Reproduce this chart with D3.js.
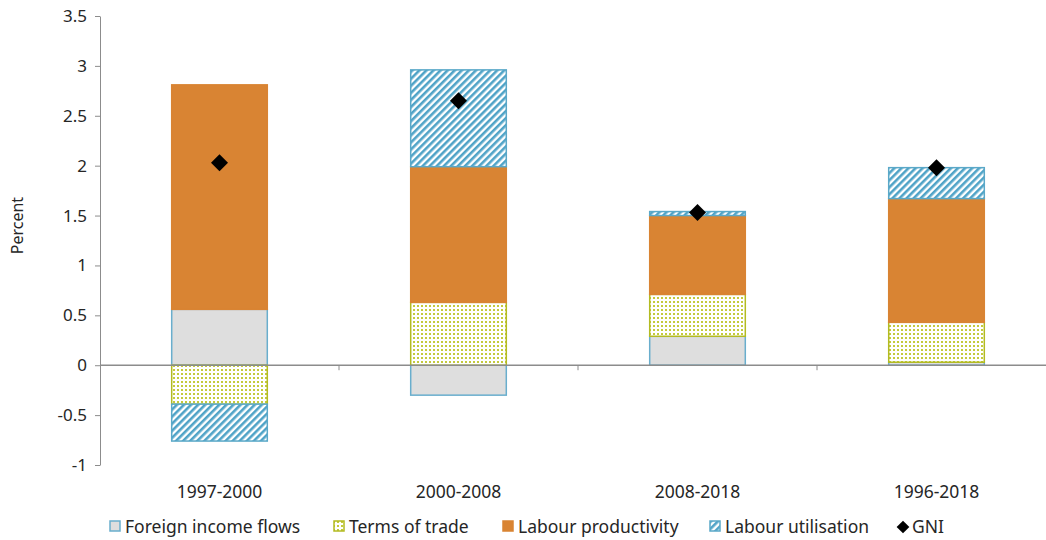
<!DOCTYPE html>
<html>
<head>
<meta charset="utf-8">
<script src="https://cdn.jsdelivr.net/npm/d3@7"></script>
<style>
body { margin: 0; background: #fff; }
#chart { width: 1046px; height: 540px; }
text { font-family: "Noto Sans", Lato, sans-serif; fill: #262626; }
.axis path, .axis line { stroke: #8c8c8c; }
</style>
</head>
<body>
<div id="chart"></div>
<script>
(function(){

// categories and series values (percent)
var periods = ["1997-2000", "2000-2008", "2008-2018", "1996-2018"];
var foreignIncome = [0.56, -0.30, 0.29, 0.03];
var termsOfTrade = [-0.39, 0.63, 0.42, 0.40];
var labourProductivity = [2.25, 1.36, 0.79, 1.24];
var labourUtilisation = [-0.37, 0.97, 0.04, 0.31];
var gni = [2.03, 2.65, 1.53, 1.98];
var yTicks = [-1, -0.5, 0, 0.5, 1, 1.5, 2, 2.5, 3, 3.5];

var seriesNames = ["Foreign income flows", "Terms of trade", "Labour productivity", "Labour utilisation"];
var seriesValues = [foreignIncome, termsOfTrade, labourProductivity, labourUtilisation];

window.onload = setChart;

function setChart(){
    var width = 1046, height = 540;

    var svg = d3.select("#chart")
        .append("svg")
        .attr("width", width)
        .attr("height", height);

    setPatterns(svg);

    var fills = ["#dedede", "url(#dots)", "#d98433", "url(#hatch)"];
    var strokes = ["#69aecd", "#b3bb22", "#d98433", "#5aa8c8"];

    var x = d3.scaleBand()
        .domain(periods)
        .range([100, 1056])
        .paddingInner(0.6)
        .paddingOuter(0.3);

    var y = d3.scaleLinear()
        .domain([-1, 3.5])
        .range([465, 16]);

    // stack positive / negative values separately
    var segs = [];
    periods.forEach(function(p, i){
        var pos = 0, neg = 0;
        seriesValues.forEach(function(vals, s){
            var v = vals[i], y0, y1;
            if (v >= 0) { y0 = pos; y1 = pos + v; pos = y1; }
            else { y0 = neg; y1 = neg + v; neg = y1; }
            segs.push({period: p, s: s, y0: y0, y1: y1});
        });
    });

    // y axis
    svg.append("g")
        .attr("class", "axis")
        .attr("transform", "translate(100,0)")
        .call(d3.axisLeft(y).tickValues(yTicks).tickSize(5).tickSizeOuter(0)
            .tickFormat(function(d){ return d; }))
        .call(function(g){
            g.selectAll("text").attr("font-size", 17).attr("x", -13)
                .attr("font-family", "'Noto Sans', Lato, sans-serif").style("fill", "#262626");
        });

    svg.append("text")
        .attr("transform", "translate(23," + y(1.4) + ") rotate(-90)")
        .attr("text-anchor", "middle")
        .attr("font-size", 16)
        .text("Percent");

    // bars
    svg.selectAll(".seg")
        .data(segs)
        .enter()
        .append("rect")
        .attr("class", "seg")
        .attr("x", function(d){ return x(d.period); })
        .attr("width", x.bandwidth())
        .attr("y", function(d){ return y(Math.max(d.y0, d.y1)); })
        .attr("height", function(d){ return Math.abs(y(d.y0) - y(d.y1)); })
        .attr("fill", function(d){ return fills[d.s]; })
        .attr("stroke", function(d){ return strokes[d.s]; })
        .attr("stroke-width", 1.5);

    // x axis at zero
    var step = x.step();
    var bounds = periods.slice(1).map(function(p){ return x(p) - (step - x.bandwidth()) / 2; });
    var xAxis = svg.append("g").attr("class", "axis");
    xAxis.append("line")
        .attr("x1", 100).attr("x2", 1056)
        .attr("y1", y(0)).attr("y2", y(0))
        .attr("stroke", "#8c8c8c").attr("stroke-width", 1.5);
    xAxis.selectAll(".tk")
        .data(bounds)
        .enter()
        .append("line")
        .attr("x1", function(d){ return d; }).attr("x2", function(d){ return d; })
        .attr("y1", y(0)).attr("y2", y(0) + 5)
        .attr("stroke", "#8c8c8c");

    svg.selectAll(".xlab")
        .data(periods)
        .enter()
        .append("text")
        .attr("x", function(d){ return x(d) + x.bandwidth() / 2; })
        .attr("y", 498)
        .attr("text-anchor", "middle")
        .attr("font-size", 17.5)
        .text(function(d){ return d; });

    // GNI markers
    svg.selectAll(".gni")
        .data(gni)
        .enter()
        .append("rect")
        .attr("width", 12).attr("height", 12)
        .attr("x", -6).attr("y", -6)
        .attr("fill", "#000")
        .attr("transform", function(d, i){
            return "translate(" + (x(periods[i]) + x.bandwidth() / 2) + "," + y(d) + ") rotate(45)";
        });

    // legend
    var legX = [110, 334, 503, 710];
    var legend = svg.append("g");
    seriesNames.forEach(function(name, s){
        legend.append("rect")
            .attr("x", legX[s]).attr("y", 521)
            .attr("width", 10).attr("height", 10)
            .attr("fill", fills[s])
            .attr("stroke", strokes[s])
            .attr("stroke-width", 1.5);
        legend.append("text")
            .attr("x", legX[s] + 15).attr("y", 533)
            .attr("font-size", 17.5)
            .text(name);
    });
    legend.append("rect")
        .attr("width", 9).attr("height", 9)
        .attr("x", -4.5).attr("y", -4.5)
        .attr("fill", "#000")
        .attr("transform", "translate(903,527) rotate(45)");
    legend.append("text")
        .attr("x", 912).attr("y", 533)
        .attr("font-size", 17.5)
        .text("GNI");
};

function setPatterns(svg){
    var defs = svg.append("defs");

    var dots = defs.append("pattern")
        .attr("id", "dots")
        .attr("patternUnits", "userSpaceOnUse")
        .attr("width", 4).attr("height", 4);
    dots.append("rect").attr("width", 4).attr("height", 4).attr("fill", "#fff");
    dots.append("rect").attr("x", 1).attr("y", 1).attr("width", 2).attr("height", 2).attr("fill", "#c4ca3c");

    var hatch = defs.append("pattern")
        .attr("id", "hatch")
        .attr("patternUnits", "userSpaceOnUse")
        .attr("width", 5).attr("height", 5)
        .attr("patternTransform", "rotate(45)");
    hatch.append("rect").attr("width", 5).attr("height", 5).attr("fill", "#fff");
    hatch.append("rect").attr("width", 2.6).attr("height", 5).attr("fill", "#4fa3c7");
};

})();
</script>
</body>
</html>
